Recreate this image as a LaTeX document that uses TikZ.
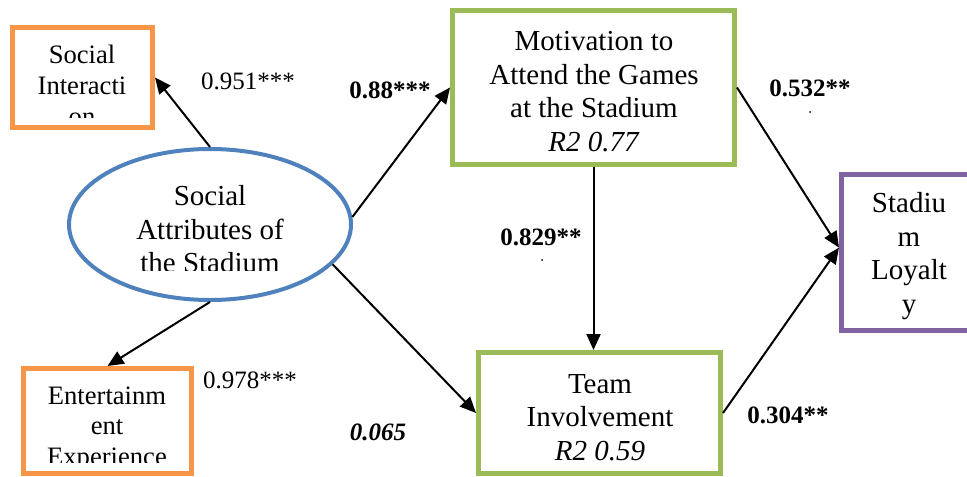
\documentclass[tikz,border=0pt]{standalone}
\usepackage{fontspec}
\setmainfont{Liberation Serif}
\usetikzlibrary{arrows.meta,shapes.geometric}

\definecolor{boxorange}{RGB}{247,150,70}
\definecolor{boxgreen}{RGB}{155,187,89}
\definecolor{ellblue}{RGB}{79,129,189}
\definecolor{boxpurple}{RGB}{128,100,162}

\tikzset{
    boxframe/.style={draw=#1,line width=2.5pt,rectangle,inner sep=0pt},
    boxtext/.style={align=center,inner sep=0pt,anchor=north,
        font=\fontsize{14.5}{16.75}\selectfont},
    smalltext/.style={boxtext,font=\fontsize{13.3}{15.4}\selectfont},
    coef/.style={inner sep=0pt,anchor=base,font=\fontsize{12.5}{15}\selectfont},
    link/.style={-{Triangle[length=8pt,width=7pt]},line width=1pt}
}

\begin{document}
\begin{tikzpicture}[x=0.5pt,y=-0.5pt]
        \useasboundingbox (0,0) rectangle (967,476);

        % constructs
        \node[draw=ellblue,line width=2pt,ellipse,inner sep=0pt,
            minimum width=141pt,minimum height=75.5pt] (soc) at (210,224.5) {};
        \node[boxframe=boxorange,minimum width=70pt,minimum height=50pt] (si) at (82.5,77.5) {};
        \node[boxframe=boxorange,minimum width=84pt,minimum height=52.5pt] (ee) at (107.5,421) {};
        \node[boxframe=boxgreen,minimum width=141pt,minimum height=77pt] (mot) at (593.5,87.5) {};
        \node[boxframe=boxgreen,minimum width=121pt,minimum height=60.5pt] (ti) at (599.5,413) {};
        \node[boxframe=boxpurple,minimum width=67.5pt,minimum height=78pt] (sl) at (909,252.5) {};

        % texts (clipped like the text boxes)
        \begin{scope}
            \clip (15,30) rectangle (150,117);
            \node[smalltext] (sitext) at (82,45) {Social\\Interacti\\on};
        \end{scope}
        \begin{scope}
            \clip (70,150) rectangle (350,270);
            \node[boxtext] (soctext) at (210,185) {Social\\Attributes of\\the Stadium};
        \end{scope}
        \begin{scope}
            \clip (26,371) rectangle (189,462);
            \node[smalltext] (eetext) at (107,386) {Entertainm\\ent\\Experience};
        \end{scope}
        \node[boxtext] (mottext) at (594,31)
            {Motivation to\\Attend the Games\\at the Stadium\\\textit{R2 0.77}};
        \node[boxtext] (titext) at (600,374) {Team\\Involvement\\\textit{R2 0.59}};
        \node[boxtext] (sltext) at (909,192) {Stadiu\\m\\Loyalt\\y};

        % paths
        \draw[link] (soc.north) -- (si.east);
        \draw[link] (soc.south) -- (ee.north);
        \draw[link] (soc.3) -- (mot.west);
        \draw[link] (soc.-18) -- (ti.west);
        \draw[link] (mot.south) -- (mot.south |- ti.north);
        \draw[link] (mot.east) -- (sl.176);
        \draw[link] (ti.east) -- (sl.176);

        % coefficients
        \node[coef] (c1) at (248,90) {0.951***};
        \node[coef] (c2) at (390,98) {\textbf{0.88***}};
        \node[coef] (c3) at (250,388) {0.978***};
        \node[coef] (c4) at (378,440) {\textbf{\textit{0.065}}};
        \node[coef] (c5) at (810,97) {\textbf{0.532**}};
        \node[coef] (c6) at (541,245) {\textbf{0.829**}};
        \node[coef] (c7) at (788,423) {\textbf{0.304**}};

        \fill (810,112) circle (1);
        \fill (542,260) circle (1);
    \end{tikzpicture}
\end{document}
